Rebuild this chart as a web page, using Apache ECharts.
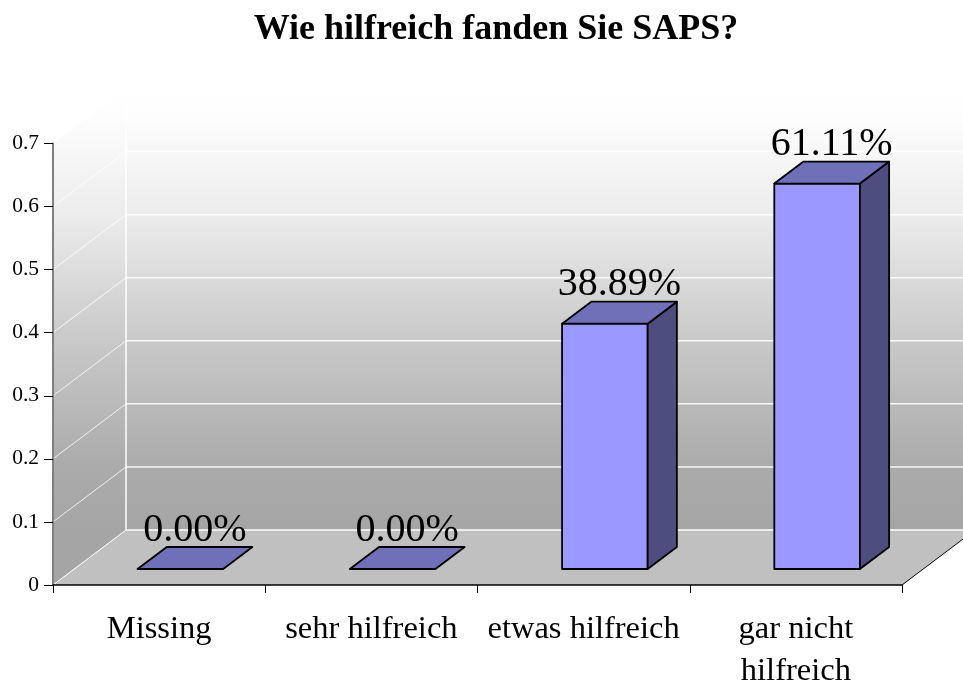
<!DOCTYPE html>
<html>
<head>
<meta charset="utf-8">
<style>html,body{margin:0;padding:0;background:#fff}#c{width:963px;height:683px}</style>
<script src="https://cdn.jsdelivr.net/npm/echarts@6/dist/echarts.min.js"></script>
</head>
<body>
<div id="c"></div>
<script>
const titleText = 'Wie hilfreich fanden Sie SAPS?';
const categories = ['Missing', 'sehr hilfreich', 'etwas hilfreich', 'gar nicht\nhilfreich'];
const values = [0, 0, 0.3889, 0.6111];
const valueLabels = ['0.00%', '0.00%', '38.89%', '61.11%'];
const yTicks = [0, 0.1, 0.2, 0.3, 0.4, 0.5, 0.6, 0.7];

const FONT = '"Liberation Serif", serif';
const DX = 73, DY = 55;
const proj = (p, d) => [p[0] + d * DX, p[1] - d * DY];
const grad = (y0, y1, stops) => new echarts.graphic.LinearGradient(0, y0, 0, y1, stops, true);
const WALL_STOPS = [
  {offset: 0, color: '#ffffff'},
  {offset: 0.07, color: '#fdfdfd'},
  {offset: 0.287, color: '#ececec'},
  {offset: 0.57, color: '#c9c9c9'},
  {offset: 0.855, color: '#ababab'},
  {offset: 1, color: '#a5a5a5'}
];

function renderWalls(params, api) {
  const tick = api.value(0);
  const left0 = api.coord([0, tick]);
  const band = api.size([1, 0])[0];
  const x0 = left0[0] - band / 2;
  const x1 = x0 + band * categories.length;
  const y = left0[1];
  const line = (a, b, color, w) => ({type: 'line', shape: {x1: a[0], y1: a[1], x2: b[0], y2: b[1]}, style: {stroke: color, lineWidth: w}});
  const children = [];
  if (params.dataIndex === 0) {
    const yTop = api.coord([0, yTicks[yTicks.length - 1]])[1];
    const A = [x0, y], B = [x1, y], T = [x0, yTop];
    const backA = proj(A, 1), backB = proj(B, 1), backT = proj(T, 1);
    children.push({type: 'polygon', shape: {points: [T, backT, backA, A]}, style: {fill: grad(backT[1], backA[1], WALL_STOPS)}});
    children.push({type: 'polygon', shape: {points: [backT, [backB[0], backT[1]], backB, backA]}, style: {fill: grad(backT[1], backA[1], WALL_STOPS)}});
    children.push({type: 'polygon', shape: {points: [A, B, backB, backA]}, style: {fill: '#c0c0c0'}});
    children.push(line(backT, backA, '#ffffff', 1.5));
    children.push(line(B, backB, '#000000', 1));
    children.push(line(A, backA, '#ffffff', 1));
    children.push(line(backA, backB, '#ffffff', 1.5));
  } else {
    const a = [x0, y], b = proj(a, 1), c = proj([x1, y], 1);
    children.push(line(a, b, 'rgba(255,255,255,0.8)', 1));
    children.push(line(b, c, 'rgba(255,255,255,0.9)', 1.5));
  }
  return {type: 'group', children};
}

function renderBar(params, api) {
  const i = api.value(0), v = api.value(1);
  const top = api.coord([i, v]), base = api.coord([i, 0]);
  const half = api.size([1, 0])[0] * 0.2017;
  const d0 = 16 / DY, d1 = 38 / DY;
  const fbl = proj([top[0] - half, base[1]], d0), fbr = proj([top[0] + half, base[1]], d0);
  const ftl = proj([top[0] - half, top[1]], d0), ftr = proj([top[0] + half, top[1]], d0);
  const bbr = proj([top[0] + half, base[1]], d1);
  const btl = proj([top[0] - half, top[1]], d1), btr = proj([top[0] + half, top[1]], d1);
  const edge = {stroke: '#000000', lineWidth: 1.8, lineJoin: 'round'};
  const children = [];
  if (v > 0) {
    children.push({type: 'polygon', shape: {points: [fbl, fbr, ftr, ftl]}, style: Object.assign({fill: '#9999ff'}, edge)});
    children.push({type: 'polygon', shape: {points: [fbr, bbr, btr, ftr]}, style: Object.assign({fill: '#4d4d80'}, edge)});
  }
  children.push({type: 'polygon', shape: {points: [ftl, ftr, btr, btl]}, style: Object.assign({fill: '#7070b8'}, edge)});
  children.push({type: 'text', style: {
    text: valueLabels[i], x: (ftl[0] + btr[0]) / 2, y: btr[1] - 17,
    align: 'center', verticalAlign: 'middle',
    font: '40px ' + FONT, fill: '#000000'
  }});
  return {type: 'group', children};
}

const chart = echarts.init(document.getElementById('c'), null, {renderer: 'canvas'});
chart.setOption({
  animation: false,
  backgroundColor: '#ffffff',
  title: {
    text: titleText, left: 491, top: 7, textAlign: 'center',
    textStyle: {fontFamily: FONT, fontWeight: 'bold', fontSize: 36, color: '#000000'}
  },
  grid: {left: 53, right: 61, top: 143.5, bottom: 98, containLabel: false, outerBoundsMode: 'none'},
  xAxis: {
    type: 'category', data: categories, z: 5,
    axisLine: {lineStyle: {color: '#000000', width: 1.5}},
    axisTick: {show: true, alignWithLabel: false, length: 8, lineStyle: {color: '#000000', width: 1}},
    axisLabel: {interval: 0, margin: 23, fontFamily: FONT, fontSize: 32.5, lineHeight: 42, color: '#000000'}
  },
  yAxis: {
    type: 'value', min: 0, max: 0.7, interval: 0.1, z: 5,
    splitLine: {show: false},
    axisLine: {show: true, lineStyle: {color: '#7f7f7f', width: 2}},
    axisTick: {show: true, length: 9, lineStyle: {color: '#000000', width: 1}},
    axisLabel: {margin: 14, fontFamily: FONT, fontSize: 21.5, color: '#000000'}
  },
  series: [
    {type: 'custom', name: 'walls', z: 1, clip: false, silent: true, renderItem: renderWalls, data: yTicks.map(t => [t]), encode: {y: 0}},
    {type: 'custom', name: 'Anteil', z: 3, clip: false, silent: true, renderItem: renderBar, data: values.map((v, i) => [i, v]), encode: {x: 0, y: 1}}
  ]
});
</script>
</body>
</html>
